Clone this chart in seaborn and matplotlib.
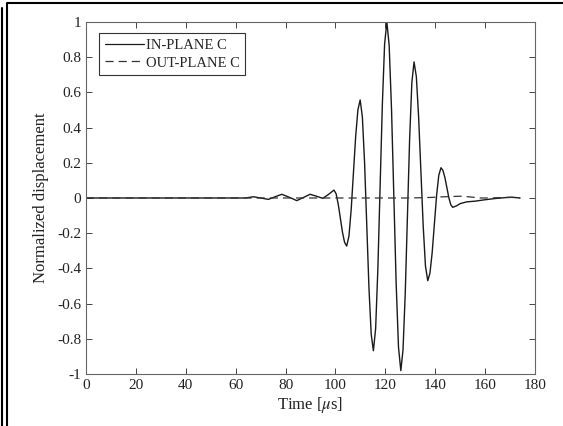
import numpy as np
import pandas as pd
import matplotlib.pyplot as plt
from matplotlib.lines import Line2D
from matplotlib.ticker import FuncFormatter
import seaborn as sns

# In-plane component
t_in = [0, 60, 64, 67.1, 70, 73.1, 76, 78.5, 81.5, 84.5, 87.2, 89.8, 92.4, 94.9, 97.2,
        99.4, 100.25, 101.1, 101.95, 102.8, 103.65,
        104.5, 105.4, 106.3, 107.2, 108.1, 109.0,
        109.9, 110.78, 111.67, 112.55, 113.43, 114.32,
        115.2, 116.1, 117.0, 117.9, 118.8, 119.7,
        120.6, 121.53, 122.47, 123.4, 124.33, 125.27,
        126.2, 127.08, 127.97, 128.85, 129.73, 130.62,
        131.5, 132.42, 133.33, 134.25, 135.17, 136.08,
        137.0, 137.88, 138.77, 139.65, 140.53, 141.42,
        142.3, 143.08, 143.87, 144.65, 145.43, 146.22,
        147.0, 148.5, 150, 152.6, 156, 160, 164, 168, 171, 174]
v_in = [0, 0, 0.0, 0.007, 0.0, -0.008, 0.008, 0.021, 0.004, -0.015, 0.003, 0.021, 0.01, -0.002, 0.02,
        0.045, 0.024, -0.035, -0.114, -0.194, -0.252,
        -0.273, -0.217, -0.066, 0.142, 0.350, 0.501,
        0.557, 0.462, 0.201, -0.156, -0.512, -0.773,
        -0.868, -0.743, -0.401, 0.066, 0.533, 0.875,
        1.0, 0.867, 0.505, 0.010, -0.486, -0.848,
        -0.981, -0.863, -0.543, -0.104, 0.335, 0.655,
        0.773, 0.690, 0.462, 0.152, -0.159, -0.387,
        -0.470, -0.427, -0.310, -0.149, 0.012, 0.129,
        0.172, 0.157, 0.116, 0.060, 0.003, -0.038,
        -0.053, -0.045, -0.032, -0.022, -0.018, -0.010, -0.003, 0.002, 0.004, 0.0]

# Out-of-plane component
t_out = [0, 130, 138, 142, 146, 150, 154, 158, 162, 166, 170, 174]
v_out = [0, 0, 0.003, 0.006, 0.008, 0.010, 0.006, 0.0, 0.0, 0.002, 0.004, 0.0]

x_ticks = [0, 20, 40, 60, 80, 100, 120, 140, 160, 180]
y_ticks = [-1, -0.8, -0.6, -0.4, -0.2, 0, 0.2, 0.4, 0.6, 0.8, 1]

sns.set_style("ticks")
plt.rcParams['font.family'] = ['Liberation Serif', 'DejaVu Serif']
plt.rcParams['mathtext.fontset'] = 'stix'
plt.rcParams['axes.unicode_minus'] = False

fig = plt.figure(figsize=(5.63, 4.26), dpi=100)
ax = fig.add_axes([0.1528, 0.1221, 0.7975, 0.8263])

df_in = pd.DataFrame({'t': t_in, 'v': v_in})
df_out = pd.DataFrame({'t': t_out, 'v': v_out})
sns.lineplot(data=df_in, x='t', y='v', ax=ax, color='#1a1a1a', lw=1.0,
             estimator=None, label='IN-PLANE C')
sns.lineplot(data=df_out, x='t', y='v', ax=ax, color='#333333', lw=0.9,
             estimator=None, dashes=False, label='OUT-PLANE C')
ax.lines[1].set_dashes((6.5, 4))

ax.set_xlim(0, 180)
ax.set_ylim(-1, 1)
ax.set_xticks(x_ticks)
ax.set_yticks(y_ticks)
ax.yaxis.set_major_formatter(FuncFormatter(lambda v, p: f"{v:g}"))
ax.tick_params(direction='in', length=4, width=0.7, colors='#444444',
               labelcolor='#222222', labelsize=11, top=True, right=True)
for s in ax.spines.values():
    s.set_visible(True)
    s.set_color('#666666')
    s.set_linewidth(0.8)

ax.set_xlabel(r'Time [$\mu$s]', fontsize=12, color='#222222', labelpad=2)
ax.set_ylabel('Normalized displacement', fontsize=12, color='#222222', labelpad=6)

leg = ax.legend(loc='upper left', bbox_to_anchor=(0.029, 0.969), borderaxespad=0,
                fontsize=10.5, handlelength=2.7, handletextpad=0.1, borderpad=0.4,
                labelspacing=0.3, frameon=True, fancybox=False)
leg.get_frame().set_edgecolor('#333333')
leg.get_frame().set_linewidth(0.8)
leg.get_frame().set_alpha(1)
for line in leg.get_lines():
    line.set_linewidth(0.9)
leg.get_lines()[1].set_dashes((6.5, 4))

# outer frame of the screenshot
W, H = 563, 426
fig.add_artist(Line2D([6.7 / W, 6.7 / W, 1], [0, 1 - 3.3 / H, 1 - 3.3 / H],
                      transform=fig.transFigure, color='black', lw=1.5))
fig.add_artist(Line2D([1.7 / W, 1.7 / W], [0, 1 - 8 / H],
                      transform=fig.transFigure, color='black', lw=1.5))

fig.savefig('out.png', dpi=100)
